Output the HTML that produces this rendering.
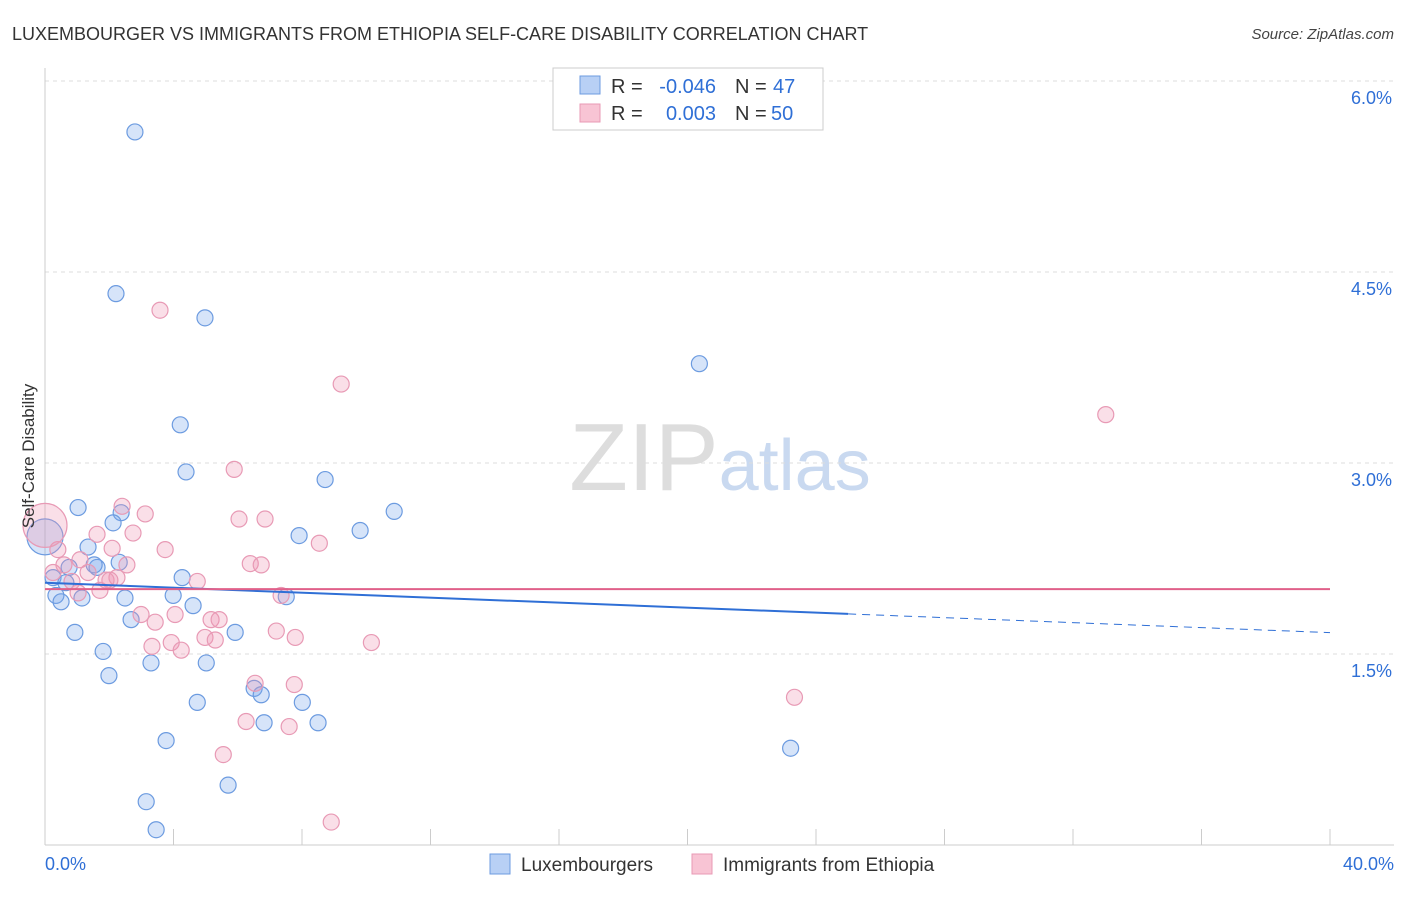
<!DOCTYPE html>
<html><head><meta charset="utf-8"><style>
body{margin:0;background:#fff;font-family:"Liberation Sans",sans-serif;}
svg text{font-family:"Liberation Sans",sans-serif;}
</style></head><body>
<svg id="chart" width="1406" height="892" viewBox="0 0 1406 892" xmlns="http://www.w3.org/2000/svg">
<text x="12" y="40" font-size="18" fill="#333">LUXEMBOURGER VS IMMIGRANTS FROM ETHIOPIA SELF-CARE DISABILITY CORRELATION CHART</text>
<text x="1394" y="39" font-size="15" fill="#444" text-anchor="end" font-style="italic">Source: ZipAtlas.com</text>
<text x="720" y="490" font-size="96" text-anchor="middle" fill="#ddd" font-family="Liberation Serif">ZIP<tspan fill="#c9d9f0" font-family="Liberation Sans" font-size="72">atlas</tspan></text>
<g id="grid"></g><g id="axes"></g><g id="marks"></g>
<text transform="translate(34,456) rotate(-90)" font-size="17" fill="#333" text-anchor="middle">Self-Care Disability</text>
<g>
<rect x="553" y="68" width="270" height="62" fill="#fff" stroke="#ccc"/>
<rect x="580" y="76" width="20" height="18" fill="#b8d0f5" stroke="#6c9be0"/>
<rect x="580" y="104" width="20" height="18" fill="#f8c4d4" stroke="#e89ab5"/>
<text x="611" y="93" font-size="20" fill="#333">R =</text>
<text x="716" y="93" font-size="20" fill="#2f6fd6" text-anchor="end">-0.046</text>
<text x="735" y="93" font-size="20" fill="#333">N =</text>
<text x="773" y="93" font-size="20" fill="#2f6fd6">47</text>
<text x="611" y="120" font-size="20" fill="#333">R =</text>
<text x="716" y="120" font-size="20" fill="#2f6fd6" text-anchor="end">0.003</text>
<text x="735" y="120" font-size="20" fill="#333">N =</text>
<text x="771" y="120" font-size="20" fill="#2f6fd6">50</text>
</g>
<g>
<rect x="490" y="854" width="20" height="20" fill="#b8d0f5" stroke="#6c9be0"/>
<text x="521" y="871" font-size="19" fill="#333">Luxembourgers</text>
<rect x="692" y="854" width="20" height="20" fill="#f8c4d4" stroke="#e89ab5"/>
<text x="723" y="871" font-size="19" fill="#333">Immigrants from Ethiopia</text>
</g>
</svg>
<script>
const yTicks=[1.5,3.0,4.5,6.0];
const yTickLabels=["1.5%","3.0%","4.5%","6.0%"];
const xTicks=[0,4,8,12,16,20,24,28,32,36,40];
const blueX=[2.80,2.21,4.98,20.37,4.21,4.39,8.72,1.03,10.87,2.37,2.12,9.81,7.91,0,1.34,2.31,1.62,0.75,0.25,4.27,0.65,0.34,3.99,7.51,1.15,2.49,0.50,4.61,2.68,5.92,0.93,1.81,3.30,5.02,1.99,6.51,6.73,4.74,8.01,6.82,8.50,3.77,23.21,5.70,3.15,3.46,1.53];
const blueY=[5.60,4.33,4.14,3.78,3.30,2.93,2.87,2.65,2.62,2.61,2.53,2.47,2.43,2.42,2.34,2.22,2.18,2.18,2.10,2.10,2.06,1.96,1.96,1.95,1.94,1.94,1.91,1.88,1.77,1.67,1.67,1.52,1.43,1.43,1.33,1.23,1.18,1.12,1.12,0.96,0.96,0.82,0.76,0.47,0.34,0.12,2.20];
const pinkX=[3.58,9.22,33.02,5.89,2.40,3.12,6.04,6.85,1.62,2.74,8.54,0.40,2.09,3.74,6.39,6.73,2.55,1.34,0.25,2.24,4.74,1.90,0.84,1.71,1.03,7.35,2.99,5.17,3.43,4.05,5.42,4.98,7.20,7.79,5.30,3.93,3.33,4.24,10.16,6.54,7.76,23.33,6.26,7.60,5.55,8.91,0,0.59,2.02,1.09];
const pinkY=[4.20,3.62,3.38,2.95,2.66,2.60,2.56,2.56,2.44,2.45,2.37,2.32,2.33,2.32,2.21,2.20,2.20,2.14,2.14,2.10,2.07,2.08,2.07,2.00,1.98,1.96,1.81,1.77,1.75,1.81,1.77,1.63,1.68,1.63,1.61,1.59,1.56,1.53,1.59,1.27,1.26,1.16,0.97,0.93,0.71,0.18,2.51,2.20,2.08,2.24];
const blueTrend=[2.06,-0.0098];
const pinkTrend=[2.01,0.0];
const sx=v=>45+v*32.125;
const sy=v=>845-v*127.33;
const NS="http://www.w3.org/2000/svg";
function mk(p,t,a){const e=document.createElementNS(NS,t);for(const k in a)e.setAttribute(k,a[k]);p.appendChild(e);return e;}
const grid=document.getElementById('grid'),axes=document.getElementById('axes'),marks=document.getElementById('marks');
yTicks.forEach((v,i)=>{
 const l=mk(grid,'line',{x1:45,x2:1394,y1:sy(v),y2:sy(v),stroke:'#ddd','stroke-dasharray':'4,4'});
 
 
 const t=mk(grid,'text',{x:1392,y:sy(v)+23,'font-size':18,fill:'#2f6fd6','text-anchor':'end'});
 t.textContent=yTickLabels[i];
 
 
});
const ya=mk(axes,'line',{x1:45,x2:45,y1:68,y2:845,stroke:'#ccc'});


const xa=mk(axes,'line',{x1:45,x2:1394,y1:845,y2:845,stroke:'#ccc'});


xTicks.forEach(v=>{
 const l=mk(axes,'line',{x1:sx(v),x2:sx(v),y1:829,y2:845,stroke:'#ccc'});
 
 
});
[["0.0%",45,"start"],["40.0%",1394,"end"]].forEach(d=>{
 const t=mk(axes,'text',{x:d[1],y:870,'font-size':18,fill:'#2f6fd6','text-anchor':d[2]});
 t.textContent=d[0];
 
 
});
function pts(X,Y,fill,stroke,name){
 X.forEach((x,i)=>{
  const big=(x===0);
  const c=mk(marks,'circle',{cx:sx(x),cy:sy(Y[i]),r:big?(name==='pink-point'?22:18):8,fill:fill,stroke:stroke,'stroke-width':1.2});
  
  
 });
}
pts(blueX,blueY,'rgba(120,165,235,0.3)','#6c9be0','blue-point');
pts(pinkX,pinkY,'rgba(240,150,180,0.3)','#e89ab5','pink-point');
const b1=mk(marks,'line',{x1:sx(0),y1:sy(blueTrend[0]),x2:sx(25),y2:sy(blueTrend[0]+blueTrend[1]*25),stroke:'#2f6fd6','stroke-width':2});


const b2=mk(marks,'line',{x1:sx(25),y1:sy(blueTrend[0]+blueTrend[1]*25),x2:sx(40),y2:sy(blueTrend[0]+blueTrend[1]*40),stroke:'#2f6fd6','stroke-width':1,'stroke-dasharray':'8,6'});


const p1=mk(marks,'line',{x1:sx(0),y1:sy(pinkTrend[0]),x2:sx(40),y2:sy(pinkTrend[0]+pinkTrend[1]*40),stroke:'#e0608a','stroke-width':2});


</script>
</body></html>
